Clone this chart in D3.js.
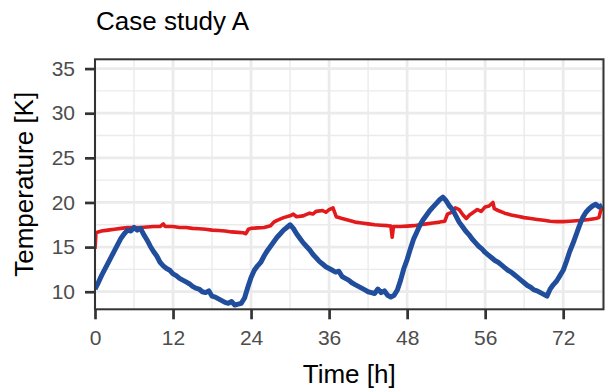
<!DOCTYPE html>
<html lang="en">
<head>
<meta charset="UTF-8">
<title>Case study A</title>
<script src="https://d3js.org/d3.v7.min.js"></script>
<style>
  html, body { margin: 0; padding: 0; background: #fff; }
  svg { display: block; font-family: "Liberation Sans", Arial, sans-serif; }
</style>
</head>
<body>
<svg id="chart" width="606" height="391"></svg>
<script>
'use strict';

// x ticks (position in hours) and the labels printed under them
const xTickValues = [0, 12, 24, 36, 48, 60, 72];
const xTickLabels = ['0', '12', '24', '36', '48', '56', '72'];
const yTickValues = [10, 15, 20, 25, 30, 35];

// blue series: [hour, temperature]
const blueSeries = [
  [0, 10.3], [0.5, 11.0], [1, 11.8], [1.5, 12.5], [2, 13.2], [2.5, 13.9], [3, 14.6], [3.5, 15.3],
  [4, 16.0], [4.5, 16.5], [5, 16.9], [5.5, 16.8], [6, 17.2], [6.5, 16.9], [7, 17.1], [7.5, 16.4],
  [8, 15.8], [8.5, 15.1], [9, 14.5], [9.5, 14.0], [10, 13.3], [10.5, 12.9], [11, 12.6], [11.5, 12.4],
  [12, 12.0], [12.5, 11.8], [13, 11.5], [13.5, 11.3], [14, 11.1], [14.5, 10.9], [15, 10.6], [15.5, 10.4],
  [16, 10.3], [16.5, 10.0], [17, 9.9], [17.5, 10.1], [18, 9.5], [18.5, 9.4], [19, 9.2], [19.5, 9.0],
  [20, 8.8], [20.5, 8.7], [21, 8.9], [21.5, 8.5], [22, 8.6], [22.5, 8.7], [23, 9.3], [23.5, 10.5],
  [24, 11.6], [24.5, 12.4], [25, 12.9], [25.5, 13.3], [26, 14.0], [26.5, 14.6], [27, 15.1], [27.5, 15.6],
  [28, 16.1], [28.5, 16.5], [29, 16.9], [29.5, 17.2], [30, 17.5], [30.5, 17.1], [31, 16.5], [31.5, 16.0],
  [32, 15.5], [32.5, 15.1], [33, 14.7], [33.5, 14.2], [34, 13.8], [34.5, 13.4], [35, 13.1], [35.5, 12.8],
  [36, 12.6], [36.5, 12.4], [37, 12.2], [37.5, 12.3], [38, 11.7], [38.5, 11.5], [39, 11.3], [39.5, 11.0],
  [40, 10.8], [40.5, 10.6], [41, 10.4], [41.5, 10.2], [42, 10.0], [42.5, 9.9], [43, 9.8], [43.5, 10.3],
  [44, 9.9], [44.5, 10.1], [45, 9.6], [45.5, 9.4], [46, 9.6], [46.5, 10.2], [47, 11.3], [47.5, 12.6],
  [48, 13.6], [48.5, 14.8], [49, 15.9], [49.5, 16.7], [50, 17.5], [50.5, 18.1], [51, 18.6], [51.5, 19.1],
  [52, 19.5], [52.5, 19.9], [53, 20.3], [53.5, 20.6], [54, 20.2], [54.5, 19.6], [55, 19.2], [55.5, 18.5],
  [56, 17.8], [56.5, 17.3], [57, 16.8], [57.5, 16.4], [58, 15.9], [58.5, 15.5], [59, 15.1], [59.5, 14.8],
  [60, 14.4], [60.5, 14.1], [61, 13.8], [61.5, 13.5], [62, 13.3], [62.5, 13.0], [63, 12.7], [63.5, 12.4],
  [64, 12.2], [64.5, 11.9], [65, 11.6], [65.5, 11.3], [66, 11.0], [66.5, 10.7], [67, 10.5], [67.5, 10.2],
  [68, 10.1], [68.5, 9.9], [69, 9.7], [69.5, 9.5], [70, 10.3], [70.5, 10.8], [71, 11.2], [71.5, 11.8],
  [72, 12.4], [72.5, 13.4], [73, 14.5], [73.5, 15.4], [74, 16.4], [74.5, 17.4], [75, 18.3], [75.5, 18.9],
  [76, 19.3], [76.5, 19.6], [77, 19.8], [77.5, 19.5], [78, 19.7]
];

// red series: [hour, temperature]
const redSeries = [
  [0, 14.8], [0.15, 16.6], [0.5, 16.7], [1, 16.8], [2, 16.9], [3, 17.0], [4, 17.1], [5, 17.2],
  [6, 17.2], [7, 17.2], [8, 17.25], [9, 17.3], [10, 17.3], [10.5, 17.6], [10.8, 17.3], [12, 17.3],
  [13, 17.2], [14, 17.2], [15, 17.1], [16, 17.05], [17, 17.0], [18, 16.9], [19, 16.85], [20, 16.8],
  [21, 16.7], [22, 16.65], [22.8, 16.6], [23.2, 16.5], [23.6, 17.0], [24, 17.1], [25, 17.15], [26, 17.2],
  [27, 17.4], [27.5, 17.8], [28, 18.0], [29, 18.3], [30, 18.5], [30.5, 18.7], [31, 18.4], [32, 18.5],
  [33, 18.8], [33.5, 18.7], [34, 19.0], [35, 19.1], [35.5, 18.9], [36, 19.2], [36.6, 19.4], [37.1, 18.4],
  [38, 18.2], [39, 18.0], [40, 17.8], [41, 17.7], [42, 17.6], [43, 17.5], [44, 17.45], [45, 17.4],
  [45.5, 17.35], [45.7, 16.1], [45.9, 17.3], [47, 17.3], [48, 17.35], [49, 17.4], [50, 17.5], [51, 17.6],
  [52, 17.7], [53, 17.8], [53.8, 17.9], [54.2, 18.7], [54.8, 18.9], [55.4, 19.4], [56, 19.2], [56.6, 18.6],
  [57.1, 18.2], [57.6, 18.6], [58.2, 18.9], [58.8, 19.2], [59.4, 19.0], [60, 19.5], [60.6, 19.6], [61.2, 20.0],
  [61.4, 19.3], [62, 19.1], [63, 18.8], [64, 18.6], [65, 18.45], [66, 18.3], [67, 18.2], [68, 18.1],
  [69, 18.0], [70, 17.9], [71, 17.85], [72, 17.85], [73, 17.9], [74, 17.95], [75, 18.0], [76, 18.1],
  [77, 18.2], [77.5, 18.3], [77.8, 19.2], [78.2, 19.3]
];

const panel = { left: 95, right: 603.5, top: 59.3, bottom: 309.3 };

const svg = d3.select('#chart');

const x = d3.scaleLinear().domain([0, 78.2]).range([panel.left, panel.right]);
const y = d3.scaleLinear().domain([8.03, 36.04]).range([panel.bottom, panel.top]);

// title
svg.append('text')
  .attr('x', 96).attr('y', 30)
  .attr('font-size', 26).attr('fill', '#000')
  .text('Case study A');

// grid
const g = svg.append('g');
const xMinor = [6, 18, 30, 42, 54, 66, 78];
const yMinor = [12.5, 17.5, 22.5, 27.5, 32.5];

g.selectAll('.xminor').data(xMinor).enter().append('line')
  .attr('x1', d => x(d)).attr('x2', d => x(d))
  .attr('y1', panel.top).attr('y2', panel.bottom)
  .attr('stroke', '#ebebeb').attr('stroke-width', 1.4);
g.selectAll('.yminor').data(yMinor).enter().append('line')
  .attr('x1', panel.left).attr('x2', panel.right)
  .attr('y1', d => y(d)).attr('y2', d => y(d))
  .attr('stroke', '#ebebeb').attr('stroke-width', 1.4);
g.selectAll('.xmajor').data(xTickValues).enter().append('line')
  .attr('x1', d => x(d)).attr('x2', d => x(d))
  .attr('y1', panel.top).attr('y2', panel.bottom)
  .attr('stroke', '#ebebeb').attr('stroke-width', 2.8);
g.selectAll('.ymajor').data(yTickValues).enter().append('line')
  .attr('x1', panel.left).attr('x2', panel.right)
  .attr('y1', d => y(d)).attr('y2', d => y(d))
  .attr('stroke', '#ebebeb').attr('stroke-width', 2.8);

// lines
svg.append('clipPath').attr('id', 'clip')
  .append('rect')
  .attr('x', panel.left).attr('y', panel.top)
  .attr('width', panel.right - panel.left).attr('height', panel.bottom - panel.top);

const line = d3.line().x(d => x(d[0])).y(d => y(d[1]));

const plot = svg.append('g').attr('clip-path', 'url(#clip)');
plot.append('path').datum(redSeries)
  .attr('d', line).attr('fill', 'none')
  .attr('stroke', '#e31a1c').attr('stroke-width', 3.6)
  .attr('stroke-linejoin', 'round');
plot.append('path').datum(blueSeries)
  .attr('d', line).attr('fill', 'none')
  .attr('stroke', '#214e9c').attr('stroke-width', 5)
  .attr('stroke-linejoin', 'round');

// panel border
svg.append('rect')
  .attr('x', panel.left).attr('y', panel.top)
  .attr('width', panel.right - panel.left).attr('height', panel.bottom - panel.top)
  .attr('fill', 'none').attr('stroke', '#333333').attr('stroke-width', 2);

// axes
const xAxis = d3.axisBottom(x)
  .tickValues(xTickValues)
  .tickFormat((d, i) => xTickLabels[i])
  .tickSize(10).tickPadding(11);
const yAxis = d3.axisLeft(y)
  .tickValues(yTickValues)
  .tickSize(10).tickPadding(10);

const xg = svg.append('g').attr('transform', `translate(0,${panel.bottom})`).call(xAxis);
const yg = svg.append('g').attr('transform', `translate(${panel.left},0)`).call(yAxis);

[xg, yg].forEach(a => {
  a.select('.domain').remove();
  a.selectAll('.tick line').attr('stroke', '#333333').attr('stroke-width', 2.7);
  a.selectAll('.tick text').attr('fill', '#4d4d4d').attr('font-size', 21)
    .attr('font-family', '"Liberation Sans", Arial, sans-serif');
});

// axis titles
svg.append('text')
  .attr('x', (panel.left + panel.right) / 2).attr('y', 383)
  .attr('text-anchor', 'middle').attr('font-size', 26).attr('fill', '#000')
  .text('Time [h]');
svg.append('text')
  .attr('transform', `translate(33,${(panel.top + panel.bottom) / 2}) rotate(-90)`)
  .attr('text-anchor', 'middle').attr('font-size', 26).attr('fill', '#000')
  .text('Temperature [K]');
</script>
</body>
</html>
